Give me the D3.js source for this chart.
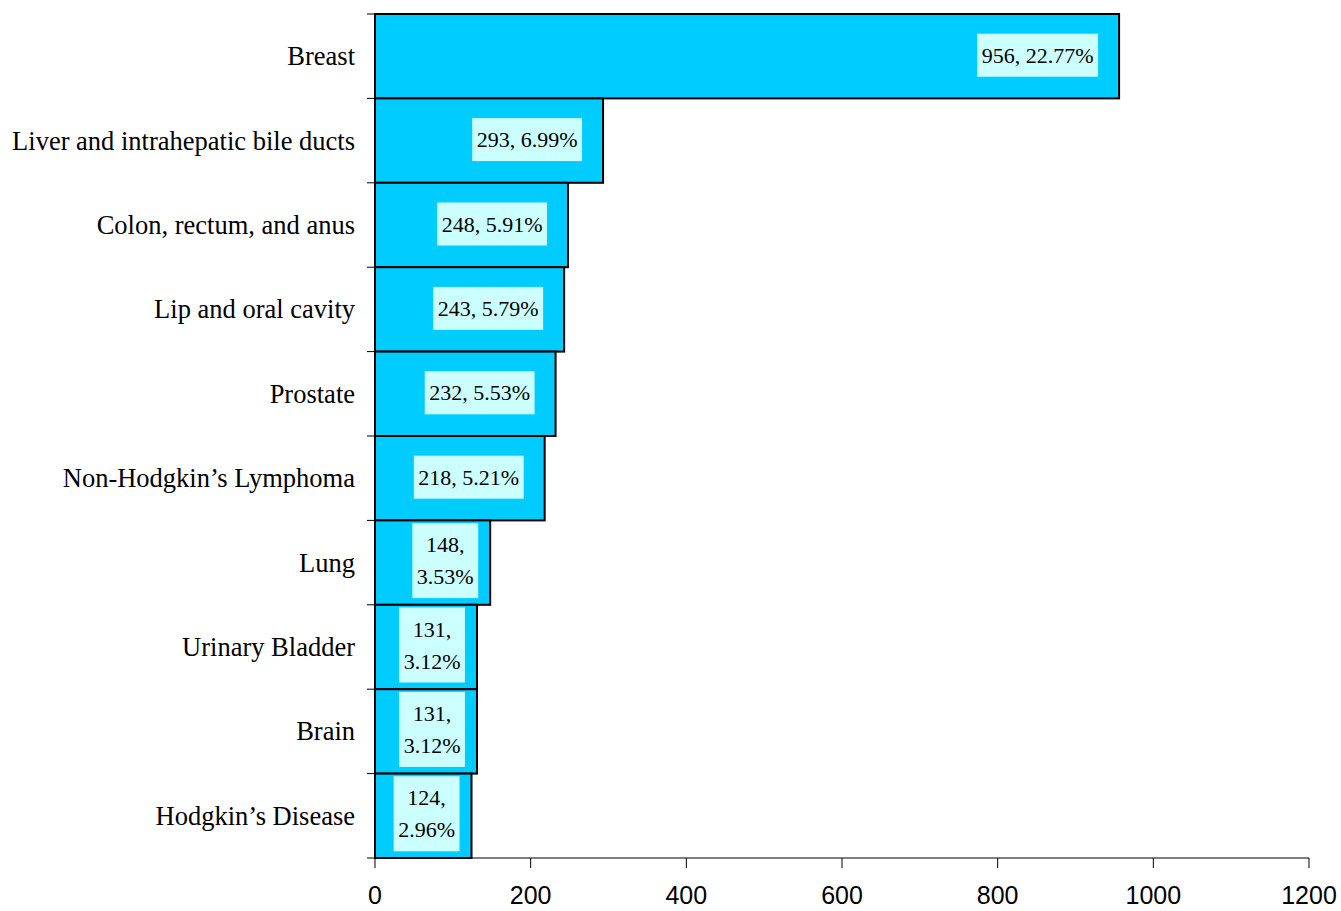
<!DOCTYPE html>
<html><head><meta charset="utf-8">
<script src="https://cdn.jsdelivr.net/npm/d3@7"></script>
<style>body{margin:0;background:#fff}svg{display:block}</style>
</head><body>
<svg id="c" width="1341" height="911"></svg>
<script>
const categories = ["Breast","Liver and intrahepatic bile ducts","Colon, rectum, and anus","Lip and oral cavity","Prostate","Non-Hodgkin\u2019s Lymphoma","Lung","Urinary Bladder","Brain","Hodgkin\u2019s Disease"];
const values = [956,293,248,243,232,218,148,131,131,124];
const percents = ["22.77%","6.99%","5.91%","5.79%","5.53%","5.21%","3.53%","3.12%","3.12%","2.96%"];
const xTicks = [0,200,400,600,800,1000,1200];

const svg = d3.select("#c");
const m = {l:375, r:1309, t:14, b:858};
const x = d3.scaleLinear().domain([0,1200]).range([m.l, m.r]);
const y = d3.scaleBand().domain(categories).range([m.t, m.b]).padding(0);

// bars
svg.append("g").selectAll("rect").data(values).join("rect")
  .attr("x", x(0))
  .attr("y", (d,i)=>y(categories[i]))
  .attr("width", d=>x(d)-x(0))
  .attr("height", y.bandwidth())
  .attr("fill","#00ccff")
  .attr("stroke","#000")
  .attr("stroke-width",2);

// left axis
const ga = svg.append("g");
ga.append("line").attr("x1",m.l).attr("x2",m.l).attr("y1",m.t).attr("y2",m.b).attr("stroke","#000");
const bounds = categories.map(c=>y(c)).concat([m.b]);
ga.selectAll("line.t").data(bounds).join("line").attr("class","t")
  .attr("x1",m.l-8).attr("x2",m.l).attr("y1",d=>d).attr("y2",d=>d).attr("stroke","#000");

// category labels
svg.append("g").selectAll("text").data(categories).join("text")
  .attr("x", 355).attr("y", d=>y(d)+y.bandwidth()/2)
  .attr("text-anchor","end").attr("dominant-baseline","central")
  .attr("font-family","Liberation Serif, Times New Roman, serif").attr("font-size",26.5)
  .text(d=>d);

// bottom axis
const gb = svg.append("g");
gb.append("line").attr("x1",m.l).attr("x2",m.r).attr("y1",m.b).attr("y2",m.b).attr("stroke","#000");
gb.selectAll("line.t").data(xTicks).join("line").attr("class","t")
  .attr("x1",d=>x(d)).attr("x2",d=>x(d)).attr("y1",m.b).attr("y2",m.b+10).attr("stroke","#000");
gb.selectAll("text").data(xTicks).join("text")
  .attr("x",d=>x(d)).attr("y",904).attr("text-anchor","middle")
  .attr("font-family","Liberation Sans, Arial, sans-serif").attr("font-size",25)
  .text(d=>d);

// value labels
const gl = svg.append("g");
values.forEach((v,i)=>{
  const w = x(v)-x(0);
  const twoLine = w < 140;
  const lines = twoLine ? [v+",", percents[i]] : [v+", "+percents[i]];
  const cy = y(categories[i]) + y.bandwidth()/2 + (twoLine ? -2 : -1);
  const g = gl.append("g");
  const rect = g.append("rect").attr("fill","#ccffff");
  const lh = 32;
  const t = g.append("text").attr("font-family","Liberation Serif, Times New Roman, serif").attr("font-size",22)
    .attr("text-anchor","middle");
  lines.forEach((s,k)=>{
    t.append("tspan").attr("x",0).attr("y", (k-(lines.length-1)/2)*lh).attr("dominant-baseline","central").text(s);
  });
  const bb = t.node().getBBox();
  const bw = bb.width + 9;
  const bh = twoLine ? 75 : 43;
  const right = x(v) - (twoLine ? 12 : 21);
  const cx = right - bw/2;
  g.attr("transform",`translate(${cx},${cy})`);
  rect.attr("x",-bw/2).attr("y",-bh/2).attr("width",bw).attr("height",bh);
});
</script>
</body></html>
